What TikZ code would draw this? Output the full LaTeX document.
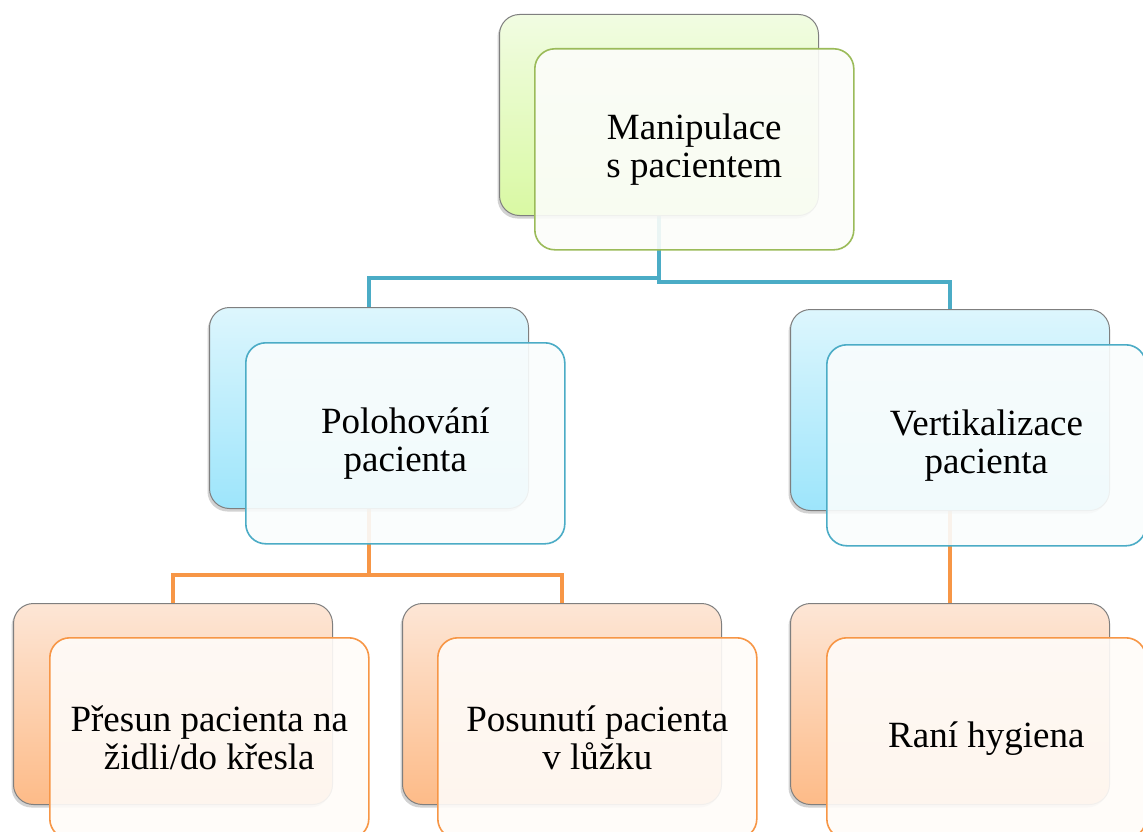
\documentclass[tikz,border=0pt]{standalone}
\usepackage{fontspec}
\setmainfont{Liberation Serif}
\usetikzlibrary{shadows}
\pgfdeclarelayer{bg}
\pgfdeclarelayer{canvas}
\pgfsetlayers{canvas,bg,main}
\definecolor{grn}{HTML}{9BBB59}
\definecolor{tel}{HTML}{4BACC6}
\definecolor{org}{HTML}{F79646}
\definecolor{gtop}{HTML}{F1FCE2}
\definecolor{gbot}{HTML}{D9F9A3}
\definecolor{btop}{HTML}{DDF6FD}
\definecolor{bbot}{HTML}{9DE5FB}
\definecolor{otop}{HTML}{FDE6D6}
\definecolor{obot}{HTML}{FDBB88}
\definecolor{edgegray}{HTML}{7F7F7F}
\tikzset{
  backbox/.style={draw=edgegray, line width=1pt, rounded corners=20pt,
    minimum width=319pt, minimum height=201pt, anchor=north west, inner sep=0pt,
    drop shadow={shadow xshift=-2pt, shadow yshift=-3pt, opacity=0.35}},
  frontbox/.style={draw=#1, fill=#1!3!white, fill opacity=0.9, text opacity=1,
    line width=1.6pt, rounded corners=20pt,
    minimum width=319pt, minimum height=201pt, anchor=north west, inner sep=0pt,
    align=center, font=\fontsize{37}{38}\selectfont},
  greenback/.style={backbox, top color=gtop, bottom color=gbot},
  blueback/.style={backbox, top color=btop, bottom color=bbot},
  orangeback/.style={backbox, top color=otop, bottom color=obot},
  conn/.style={draw=#1, line width=4.5pt}
}
\begin{document}
\begin{tikzpicture}[x=1pt,y=-1pt]
\begin{pgfonlayer}{canvas}
\fill[white] (0,0) rectangle (1143,832);
\end{pgfonlayer}
\useasboundingbox (0,0) rectangle (1143,832);
% back boxes
\node[greenback]  (Ab) at (499,14)  {};
\node[blueback]   (Bb) at (209,307) {};
\node[blueback]   (Cb) at (790,309) {};
\node[orangeback] (Db) at (13,603)  {};
\node[orangeback] (Eb) at (402,603) {};
\node[orangeback] (Fb) at (790,603) {};
% front boxes
\node[frontbox=grn] (Af) at (534,48)  {Manipulace\\s pacientem};
\node[frontbox=tel] (Bf) at (245,342) {Polohování\\pacienta};
\node[frontbox=tel] (Cf) at (826,344) {Vertikalizace\\pacienta};
\node[frontbox=org] (Df) at (49,637)  {Přesun pacienta na\\židli/do křesla};
\node[frontbox=org] (Ef) at (437,637) {Posunutí pacienta\\v lůžku};
\node[frontbox=org] (Ff) at (826,637) {Raní hygiena};
% connectors
\begin{pgfonlayer}{bg}
\draw[conn=tel] (Ab.south) -- ++(0,62) -| (Bb.north);
\draw[conn=tel] (Ab.south) -- ++(0,66) -| (Cb.north);
\draw[conn=org] (Bb.south) -- ++(0,66) -| (Db.north);
\draw[conn=org] (Bb.south) -- ++(0,66) -| (Eb.north);
\draw[conn=org] (Cb.south) -- (Fb.north);
\end{pgfonlayer}
\end{tikzpicture}
\end{document}
